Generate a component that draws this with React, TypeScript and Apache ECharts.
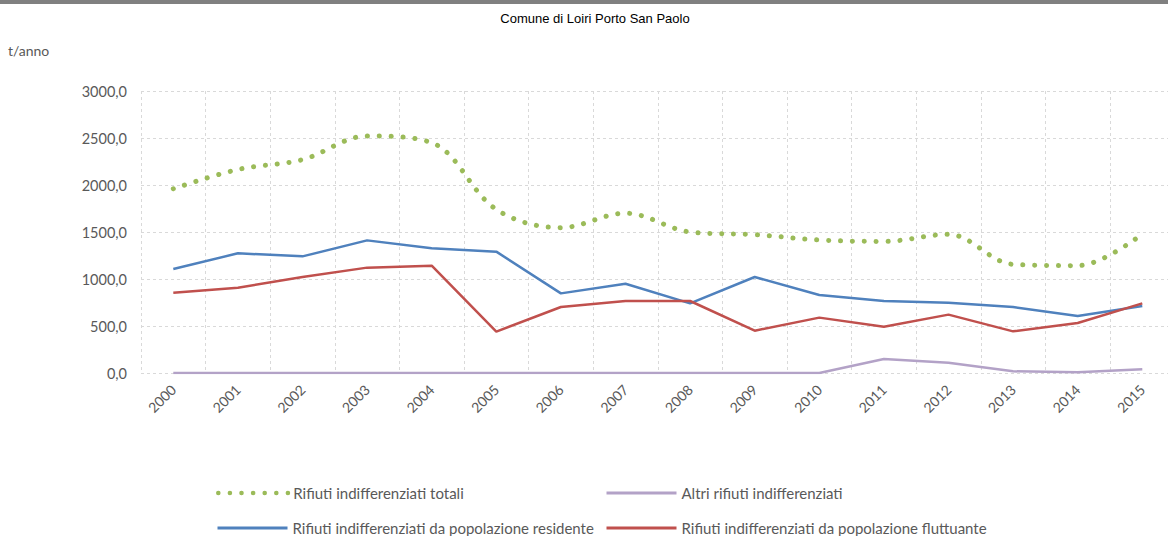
import React, { useEffect, useRef } from "react";
import * as echarts from "echarts";

const years = ["2000","2001","2002","2003","2004","2005","2006","2007","2008","2009","2010","2011","2012","2013","2014","2015"];
const totali = [1960, 2165, 2270, 2521, 2450, 1740, 1546, 1700, 1500, 1472, 1415, 1400, 1475, 1156, 1142, 1479];
const altri = [0, 0, 0, 0, 0, 0, 0, 0, 0, 0, 0, 149, 110, 18, 7, 39];
const residenti = [1106, 1273, 1241, 1411, 1326, 1291, 847, 950, 741, 1021, 830, 766, 748, 702, 606, 713];
const fluttuanti = [855, 908, 1021, 1121, 1142, 440, 702, 766, 766, 450, 589, 493, 621, 443, 532, 741];
const yTicks = { min: 0, max: 3000, interval: 500 };

const names = [
  "Rifiuti indifferenziati totali",
  "Altri rifiuti indifferenziati",
  "Rifiuti indifferenziati da popolazione residente",
  "Rifiuti indifferenziati da popolazione fluttuante",
];
const colors = ["#9BBB59", "#B3A2C7", "#4F81BD", "#C0504D"];
const FONT = "Lato, 'Open Sans', sans-serif";

export default function App() {
  const ref = useRef<HTMLDivElement>(null);
  useEffect(() => {
    if (!ref.current) return;
    const chart = echarts.init(ref.current, undefined, { renderer: "svg" });
    const legendPos = [
      { left: 216, top: 485 },
      { left: 605, top: 485 },
      { left: 216, top: 520 },
      { left: 605, top: 520 },
    ];
    const legendLine = [
      { color: colors[0], width: 4.5, type: [0.1, 11.5], cap: "round" },
      { color: colors[1], width: 3 },
      { color: colors[2], width: 3 },
      { color: colors[3], width: 3 },
    ];
    chart.setOption({
      animation: false,
      backgroundColor: "#ffffff",
      textStyle: { fontFamily: FONT },
      graphic: [
        { type: "rect", shape: { x: 0, y: 0, width: 1200, height: 4 }, style: { fill: "#808080" } },
        {
          type: "text", x: 595, y: 18,
          style: { text: "Comune di Loiri Porto San Paolo", fill: "#000000", font: "13px 'Liberation Sans', Arial, sans-serif", textAlign: "center", textVerticalAlign: "middle" },
        },
        {
          type: "text", x: 8, y: 50,
          style: { text: "t/anno", fill: "#595959", font: "14px " + FONT, textAlign: "left", textVerticalAlign: "middle" },
        },
      ],
      legend: names.map((n, i) => ({
        data: [n],
        left: legendPos[i].left,
        top: legendPos[i].top,
        itemWidth: 70,
        itemHeight: 6,
        itemGap: 0,
        padding: 0,
        itemStyle: { opacity: 0 },
        lineStyle: legendLine[i],
        textStyle: { color: "#595959", fontSize: 15, fontFamily: FONT, lineHeight: 16 },
      })),
      grid: { left: 141, top: 91, width: 1033.6, height: 282, containLabel: false },
      xAxis: {
        type: "category",
        data: years,
        boundaryGap: true,
        axisLine: { show: false },
        axisTick: { show: false },
        axisLabel: { rotate: 45, color: "#595959", fontSize: 14, margin: 14, fontFamily: FONT },
        splitLine: { show: true, lineStyle: { color: "#D9D9D9", type: [3, 3], width: 1 } },
      },
      yAxis: {
        type: "value",
        min: yTicks.min,
        max: yTicks.max,
        interval: yTicks.interval,
        axisLine: { show: false },
        axisTick: { show: false },
        axisLabel: {
          color: "#595959", fontSize: 14.5, margin: 14, fontFamily: FONT,
          formatter: (v: number) => v.toFixed(1).replace(".", ","),
        },
        splitLine: { show: true, lineStyle: { color: "#D9D9D9", type: [3, 3], width: 1 } },
      },
      series: [
        {
          name: names[0], type: "line", data: totali, smooth: 0.35, symbol: "none",
          lineStyle: { color: colors[0], width: 5, type: [0.1, 11.8], cap: "round" },
          itemStyle: { color: colors[0] },
        },
        {
          name: names[1], type: "line", data: altri, symbol: "none",
          lineStyle: { color: colors[1], width: 2.5 }, itemStyle: { color: colors[1] },
        },
        {
          name: names[2], type: "line", data: residenti, symbol: "none",
          lineStyle: { color: colors[2], width: 2.5 }, itemStyle: { color: colors[2] },
        },
        {
          name: names[3], type: "line", data: fluttuanti, symbol: "none",
          lineStyle: { color: colors[3], width: 2.5 }, itemStyle: { color: colors[3] },
        },
      ],
    });
    return () => chart.dispose();
  }, []);
  return (
    <div style={{ position: "fixed", left: 0, top: 0, width: 1168, height: 536, overflow: "hidden", background: "#fff" }}>
      <div ref={ref} style={{ width: 1200, height: 536 }} />
    </div>
  );
}
